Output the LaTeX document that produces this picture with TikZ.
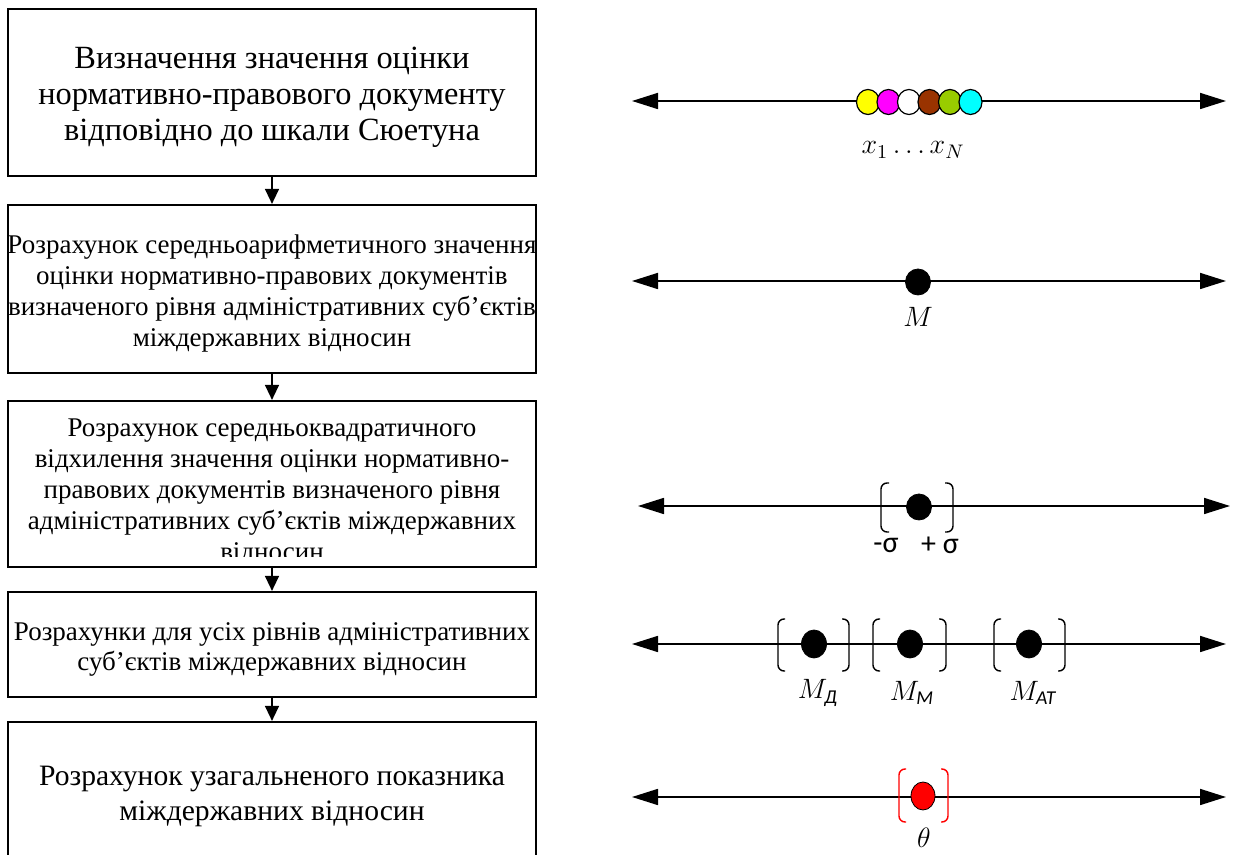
\documentclass[tikz,border=0pt]{standalone}
\usepackage{fix-cm}
\usepackage{amsmath}
\usepackage{fontspec}
\setmainfont{Liberation Serif}
\newfontfamily\sigmafont{Carlito}
\usepackage{tikz}
\usetikzlibrary{arrows.meta,shapes.geometric,positioning}

\definecolor{beadyellow}{HTML}{FFFF00}
\definecolor{beadmagenta}{HTML}{FF00FF}
\definecolor{beadbrown}{HTML}{993300}
\definecolor{beadgreen}{HTML}{99CC00}
\definecolor{beadcyan}{HTML}{00FFFF}

\tikzset{
stepbox/.style={rectangle, draw=black, line width=1.1pt, minimum width=264pt, inner sep=0pt},
steptext/.style={align=center, inner sep=0pt},
flowarrow/.style={-{Triangle[length=7.5pt,width=7pt]}, line width=0.7pt},
numline/.style={{Triangle[length=13pt,width=8pt]}-{Triangle[length=13pt,width=8pt]}, line width=0.85pt},
dot/.style={ellipse, draw=black, fill=black, minimum width=12.5pt, minimum height=13pt, inner sep=0pt},
bead/.style={ellipse, draw=black, line width=0.6pt, minimum width=11.5pt, minimum height=12.5pt, inner sep=0pt},
brk/.style={line width=0.7pt, rounded corners=3pt},
mlabel/.style={font=\fontsize{14}{16}\selectfont, inner sep=0pt},
sigmalabel/.style={font=\sigmafont\fontsize{15}{17}\selectfont, inner sep=0pt}
}

\begin{document}
\begin{tikzpicture}[x=0.5pt,y=-0.5pt]
\useasboundingbox (0,0) rectangle (1239,855);

% blocks on the left
\node (box1) [stepbox, minimum height=83.5pt] at (272,92.5) {};
\node (box2) [stepbox, minimum height=84pt] at (272,289) {};
\node (box3) [stepbox, minimum height=83pt] at (272,484) {};
\node (box4) [stepbox, minimum height=52.5pt] at (272,644.5) {};
\node (box5) [stepbox, minimum height=74pt] at (272,796) {};

\node (box1txt) [steptext, font=\fontsize{16.2}{18}\selectfont] at (272,97.5) {Визначення значення оцінки\\нормативно-правового документу\\відповідно до шкали Сюетуна};
\node (box2txt) [steptext, font=\fontsize{13.5}{15.5}\selectfont] at (272,294) {Розрахунок середньоарифметичного значення\\оцінки нормативно-правових документів\\визначеного рівня адміністративних суб’єктів\\міждержавних відносин};
\begin{scope}
\clip (0,400) rectangle (545,557);
\node (box3txt) [steptext, font=\fontsize{13.5}{15.5}\selectfont] at (272,492) {Розрахунок середньоквадратичного\\відхилення значення оцінки нормативно-\\правових документів визначеного рівня\\адміністративних суб’єктів міждержавних\\відносин};
\end{scope}
\node (box4txt) [steptext, font=\fontsize{13.5}{15}\selectfont] at (272,649) {Розрахунки для усіх рівнів адміністративних\\суб’єктів міждержавних відносин};
\node (box5txt) [steptext, font=\fontsize{14.8}{17.5}\selectfont] at (272,796) {Розрахунок узагальненого показника\\міждержавних відносин};

\draw [flowarrow] (box1) -- (box2);
\draw [flowarrow] (box2) -- (box3);
\draw [flowarrow] (box3) -- (box4);
\draw [flowarrow] (box4) -- (box5);

% scales on the right
\coordinate (a1w) at (632,101);
\coordinate (a1e) at (1226,101);
\coordinate (a2w) at (632,281);
\coordinate (a2e) at (1226,281);
\coordinate (a3w) at (638,506);
\coordinate (a3e) at (1230,506);
\coordinate (a4w) at (632,644);
\coordinate (a4e) at (1226,644);
\coordinate (a5w) at (632,797);
\coordinate (a5e) at (1226,797);
\foreach \i in {1,...,5}
  \draw [numline] (a\i w) -- (a\i e);

% estimates
\foreach \c [count=\i] in {beadyellow,beadmagenta,white,beadbrown,beadgreen,beadcyan}
  \node (b\i) [bead, fill=\c] at ({847.5+20.5*\i},102) {};
\node (xlab) [mlabel] at (913,150) {$x_1\ldots x_N$};

% mean
\node (mean) [dot] at (918,282) {};
\node (meanlab) [mlabel] at (918,317) {$M$};

% deviation
\node (sig) [dot] at (919,507) {};
\draw [brk] (889,483) -- (881,483) -- (881,532) -- (889,532);
\draw [brk] (945,483) -- (953,483) -- (953,532) -- (945,532);
\node (sminus) [sigmalabel] at (886,545) {-σ};
\node (splus) [sigmalabel] at (940,545) {+ σ};

% levels
\node (md) [dot, minimum height=14pt] at (814,644) {};
\node (mm) [dot, minimum height=14pt] at (910,644) {};
\node (mat) [dot, minimum height=14pt] at (1029,644) {};
\draw [brk] (785,619) -- (778,619) -- (778,671) -- (785,671);
\draw [brk] (842,619) -- (849,619) -- (849,671) -- (842,671);
\draw [brk] (880,619) -- (873,619) -- (873,671) -- (880,671);
\draw [brk] (939,619) -- (946,619) -- (946,671) -- (939,671);
\draw [brk] (1001,619) -- (994,619) -- (994,671) -- (1001,671);
\draw [brk] (1058,619) -- (1065,619) -- (1065,671) -- (1058,671);
\node (mdlab) [mlabel] at (818,693) {$M_{\text{\sigmafont\itshape Д}}$};
\node (mmlab) [mlabel] at (912,693) {$M_{\text{\sigmafont\itshape M}}$};
\node (matlab) [mlabel] at (1033,693) {$M_{\text{\sigmafont\itshape AT}}$};

% general index
\node (theta) [dot, fill=red, minimum width=12pt, minimum height=14pt] at (923,796) {};
\draw [brk, red] (906,769) -- (899,769) -- (899,822) -- (906,822);
\draw [brk, red] (941,769) -- (948,769) -- (948,822) -- (941,822);
\node (thetalab) [mlabel] at (924,838) {$\theta$};
\end{tikzpicture}
\end{document}
